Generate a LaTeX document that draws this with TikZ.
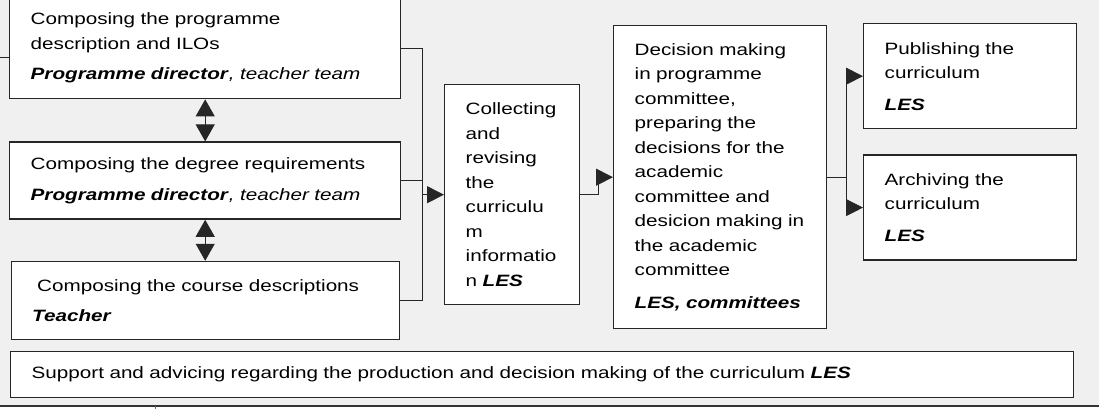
\documentclass[tikz,border=0pt]{standalone}
\usepackage{fontspec}
\setmainfont{Liberation Sans}[FakeStretch=1.26]
\usetikzlibrary{arrows.meta,positioning}

\definecolor{panel}{RGB}{240,240,240}
\newcommand{\who}[1]{\textbf{\textit{#1}}}

\tikzset{
  box/.style={draw=black!85, line width=1.4pt, fill=white, align=left,
    inner xsep=21pt, inner ysep=0pt,
    font=\fontsize{16.4}{24.5}\selectfont},
  link/.style={line width=0.9pt, draw=black!85},
  tip/.style={-{Triangle[length=17pt,width=17pt]}},
  dbl/.style={{Triangle[length=17pt,width=19pt]}-{Triangle[length=17pt,width=19pt]}},
}

\begin{document}
\begin{tikzpicture}[x=1pt,y=1pt]
 \useasboundingbox (0,0) rectangle (1099,409);
 \fill[panel] (0,3) rectangle (1099,409);
 \draw[line width=1.8pt, black!80] (0,3) -- (1099,3);
 \draw[line width=0.8pt, black!60] (155,3) -- (155,0);

 % left column
 \node[box, anchor=north west, text width=349pt, minimum height=101pt] (prog) at (9,412)
  {Composing the programme\\ description and ILOs\\[6pt] \who{Programme director}\textit{, teacher team}};
 \node[box, below=42pt of prog, text width=349pt, minimum height=77pt] (degree)
  {Composing the degree requirements\\[6pt] \who{Programme director}\textit{, teacher team}};
 \node[box, below=41pt of degree, text width=346pt, minimum height=78pt] (course)
  {\hspace*{5pt}Composing the course descriptions\\[5pt] \who{Teacher}};

 % middle
 \node[box, anchor=north west, text width=93pt, minimum height=220pt] (collect) at (444,325)
  {Collecting\\ and\\ revising\\ the\\ curriculu\\ m\\ informatio\\ n \who{LES}};
 \node[box, anchor=north west, text width=171pt, minimum height=303pt] (decide) at (613,384)
  {Decision making\\ in programme\\ committee,\\ preparing the\\ decisions for the\\ academic\\ committee and\\ desicion making in\\ the academic\\ committee\\[8pt] \who{LES, committees}};

 % right column
 \node[box, anchor=north west, text width=171pt, minimum height=105pt] (publish) at (863,386)
  {Publishing the\\ curriculum\\[7pt] \who{LES}};
 \node[box, below=25pt of publish, text width=171pt, minimum height=105pt] (archive)
  {Archiving the\\ curriculum\\[7pt] \who{LES}};

 \node[box, anchor=north west, text width=1021pt, minimum height=46pt] (support) at (10,58)
  {Support and advicing regarding the production and decision making of the curriculum \who{LES}};

 % connectors
 \coordinate (stub) at (0,352);
 \draw[link] (stub) -- (stub -| prog.west);
 \draw[link, dbl] (prog.south) -- (degree.north);
 \draw[link, dbl] (degree.south) -- (course.north);

 \coordinate[left=22pt of collect.west] (join);
 \draw[link] (prog.east) -| (join);
 \draw[link] (degree.east) -| (join);
 \draw[link] (course.east) -| (join);
 \draw[link, tip] (join) -- (collect.west);

 \draw[link, tip] (collect.east) -- ++(18pt,0) |- (decide.west);

 \coordinate[right=19pt of decide.east] (split);
 \draw[link] (decide.east) -- (split);
 \draw[link, tip] (split) |- (publish.west);
 \draw[link, tip] (split) |- (archive.west);
\end{tikzpicture}
\end{document}
